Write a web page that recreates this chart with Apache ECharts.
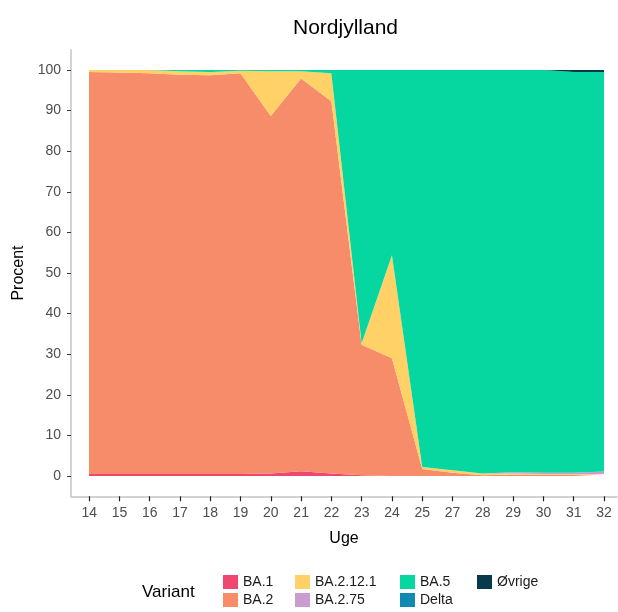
<!DOCTYPE html>
<html>
<head>
<meta charset="utf-8">
<title>Nordjylland</title>
<script src="https://cdn.jsdelivr.net/npm/echarts@6/dist/echarts.min.js"></script>
</head>
<body style="margin:0">
<div id="main" style="width:618px;height:612px;"></div>
<script type="text/javascript">
// uger (26 mangler i data)
var weeks = [14, 15, 16, 17, 18, 19, 20, 21, 22, 23, 24, 25, 27, 28, 29, 30, 31, 32];
var yTicks = [0, 10, 20, 30, 40, 50, 60, 70, 80, 90, 100];

var ba1    = [0.5, 0.5, 0.5, 0.5, 0.5, 0.5, 0.6, 1.2, 0.6, 0.2, 0, 0, 0, 0, 0, 0, 0, 0];
var ba2    = [99.0, 98.9, 98.7, 98.3, 98.2, 98.7, 88.1, 96.7, 91.7, 32.1, 29.0, 1.7, 0.8, 0.2, 0.4, 0.4, 0.4, 0.4];
var ba2121 = [0.5, 0.6, 0.8, 0.9, 0.8, 0.6, 11.0, 1.8, 6.9, 0.4, 25.4, 0.5, 0.6, 0.4, 0.2, 0.1, 0.1, 0.1];
var ba275  = [0, 0, 0, 0, 0, 0, 0, 0, 0, 0, 0, 0, 0, 0, 0.3, 0.3, 0.3, 0.6];
var ba5    = [0, 0, 0, 0.3, 0.5, 0.2, 0.3, 0.3, 0.8, 67.3, 45.6, 97.8, 98.6, 99.4, 99.1, 99.2, 98.7, 98.4];
var delta  = [0, 0, 0, 0, 0, 0, 0, 0, 0, 0, 0, 0, 0, 0, 0, 0, 0, 0];
var ovrige = [0, 0, 0, 0, 0, 0, 0, 0, 0, 0, 0, 0, 0, 0, 0, 0, 0.5, 0.5];

var variants = [
	{ name: 'BA.1', data: ba1, color: '#EF476F' },
	{ name: 'BA.2', data: ba2, color: '#F78C6B' },
	{ name: 'BA.2.12.1', data: ba2121, color: '#FFD166' },
	{ name: 'BA.2.75', data: ba275, color: '#CA9CCF' },
	{ name: 'BA.5', data: ba5, color: '#06D6A0' },
	{ name: 'Delta', data: delta, color: '#118AB2' },
	{ name: 'Øvrige', data: ovrige, color: '#073B4C' }
];

var font = 'Liberation Sans, Arial, sans-serif';
var axisGray = '#c4c4c4';
// positions of the weeks on the panel axis (one per category)
var weekIdx = weeks.map(function (w, i) { return i; });

var series = [];
for (var i = 0; i < variants.length; i++) {
	var v = variants[i];
	series.push({
		name: v.name,
		type: 'line',
		stack: 'total',
		symbol: 'none',
		showSymbol: false,
		lineStyle: { width: 0 },
		itemStyle: { color: v.color },
		areaStyle: { color: v.color, opacity: 1 },
		data: v.data
	});
}

function legendCol(names, left) {
	return {
		data: names,
		orient: 'vertical',
		left: left,
		top: 575,
		icon: 'rect',
		itemWidth: 15,
		itemHeight: 14,
		itemGap: 4,
		padding: 0,
		selectedMode: false,
		textStyle: { fontFamily: font, fontSize: 14, color: '#1a1a1a' }
	};
}

var myChart = echarts.init(document.getElementById('main'));
var option = {
	animation: false,
	title: [{
		text: 'Nordjylland',
		left: 288,
		top: 13,
		textStyle: { fontFamily: font, fontSize: 21, fontWeight: 'normal', color: '#000' }
	}, {
		text: 'Variant',
		left: 142,
		top: 584,
		padding: 0,
		textStyle: { fontFamily: font, fontSize: 17, fontWeight: 'normal', color: '#000' }
	}],
	legend: [
		legendCol(['BA.1', 'BA.2'], 223),
		legendCol(['BA.2.12.1', 'BA.2.75'], 295),
		legendCol(['BA.5', 'Delta'], 400),
		legendCol(['Øvrige'], 477)
	],
	// grid 0: data, grid 1: the panel's bottom axis (line, ticks, labels)
	grid: [
		{ left: 89, right: 14, top: 49.7, bottom: 115.7 },
		{ left: 71, right: 1, top: 49.7, bottom: 115.7 }
	],
	xAxis: [{
		type: 'category',
		gridIndex: 0,
		data: weeks,
		boundaryGap: false,
		show: false
	}, {
		type: 'value',
		gridIndex: 1,
		min: -0.6,
		max: 17.43,
		name: 'Uge',
		nameLocation: 'middle',
		nameGap: 34,
		nameTextStyle: { fontFamily: font, fontSize: 16, color: '#000' },
		splitLine: { show: false },
		axisLine: { show: true, onZero: false, lineStyle: { color: axisGray, width: 1.5 } },
		axisTick: { show: true, inside: false, customValues: weekIdx, length: 5, lineStyle: { color: '#222', width: 1.2 } },
		axisLabel: {
			customValues: weekIdx,
			formatter: function (val) { return weeks[Math.round(val)]; },
			fontFamily: font, fontSize: 14, color: '#4d4d4d', margin: 10
		}
	}],
	yAxis: [{
		type: 'value',
		gridIndex: 0,
		min: -5,
		max: 105,
		offset: 18,
		name: 'Procent',
		nameLocation: 'middle',
		nameRotate: 90,
		nameGap: 43,
		nameTextStyle: { fontFamily: font, fontSize: 16, color: '#000' },
		splitLine: { show: false },
		axisLine: { show: true, onZero: false, lineStyle: { color: axisGray, width: 1.5 } },
		axisTick: { show: true, customValues: yTicks, length: 4, lineStyle: { color: '#333' } },
		axisLabel: { customValues: yTicks, fontFamily: font, fontSize: 14, color: '#4d4d4d', margin: 10 }
	}, {
		type: 'value',
		gridIndex: 1,
		show: false
	}],
	series: series
};
myChart.setOption(option);
</script>
</body>
</html>
